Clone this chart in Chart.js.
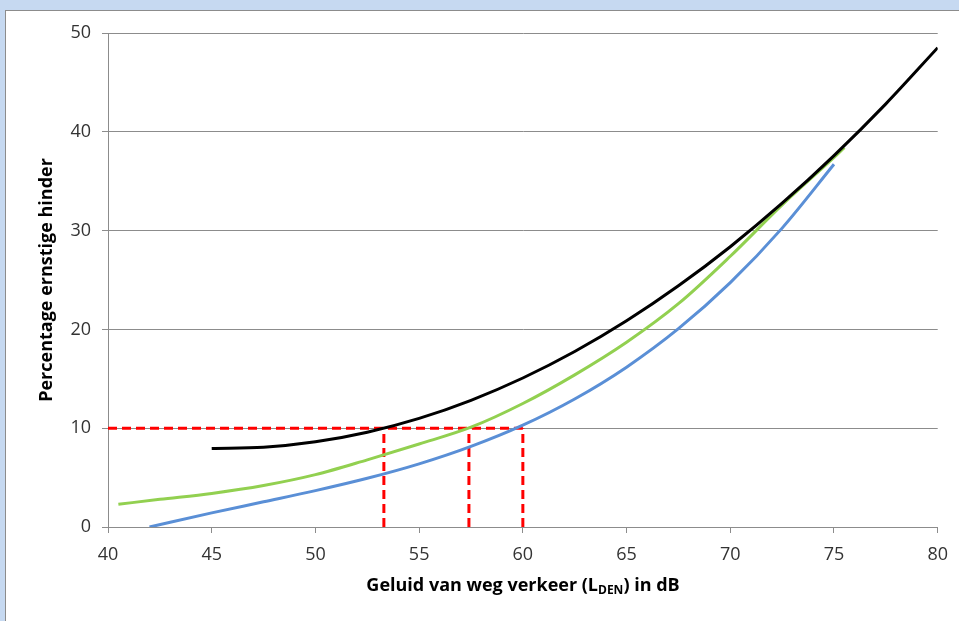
<!DOCTYPE html>
<html>
<head>
<meta charset="utf-8">
<script src="https://cdn.jsdelivr.net/npm/chart.js@4"></script>
<style>
  html, body { margin:0; padding:0; width:959px; height:621px; overflow:hidden; background:#c6d9f1; }
  #panel { position:absolute; left:5px; top:10px; width:960px; height:620px; background:#fff; border-left:1.5px solid #8c8c8c; border-top:1.5px solid #8c8c8c; }
  #wrap { position:absolute; left:0; top:0; width:959px; height:621px; }
  #xtitle { position:absolute; left:108px; width:830px; top:572px; text-align:center; font-family:"Open Sans", sans-serif; font-weight:bold; font-size:18px; color:#000; white-space:nowrap; }
  #xtitle sub { font-size:12px; vertical-align:-3px; }
</style>
</head>
<body>
<div id="panel"></div>
<div id="wrap"><canvas id="c" width="959" height="621"></canvas></div>
<div id="xtitle">Geluid van weg verkeer (L<sub>DEN</sub>) in dB</div>
<script>
// Data
const blackX = [45, 47.5, 50, 52.5, 55, 57.5, 60, 62.5, 65, 67.5, 70, 72.5, 75, 77.5, 80];
const blackY = [7.95, 8.07, 8.62, 9.59, 10.99, 12.82, 15.08, 17.76, 20.87, 24.41, 28.37, 32.77, 37.59, 42.83, 48.51];

const greenX = [40.5, 42.5, 45, 47.5, 50, 52.5, 55, 57.5, 60, 62.5, 65, 67.5, 70, 72.5, 75, 75.5];
const greenY = [2.3, 2.8, 3.4, 4.2, 5.3, 6.8, 8.4, 10.1, 12.5, 15.4, 18.7, 22.6, 27.4, 32.6, 37.4, 38.4];

const blueX = [42, 45, 47.5, 50, 52.5, 55, 57.5, 60, 62.5, 65, 67.5, 70, 72.5, 75];
const blueY = [0, 1.43, 2.55, 3.68, 4.93, 6.39, 8.16, 10.31, 12.96, 16.18, 20.07, 24.73, 30.25, 36.71];

const refLevel = 10;
const refX = [53.3, 57.4, 60.0];
const refStartX = 40;

const xTicks = [40, 45, 50, 55, 60, 65, 70, 75, 80];
const yTicks = [0, 10, 20, 30, 40, 50];

const yTitle = "Percentage ernstige hinder";

const pts = (xs, ys) => xs.map((x, i) => ({x: x, y: ys[i]}));
const red = '#ff0000';
const refDash = [9, 5];

const datasets = [];
datasets.push({ data: [{x: refStartX, y: refLevel}, {x: refX[refX.length-1], y: refLevel}], borderColor: red, borderWidth: 3, borderDash: refDash, pointRadius: 0, tension: 0, order: 5, clip: 8 });
refX.forEach(x => datasets.push({ data: [{x: x, y: 0}, {x: x, y: refLevel}], borderColor: red, borderWidth: 3, borderDash: refDash, pointRadius: 0, tension: 0, order: 5 }));
datasets.push({ data: pts(blueX, blueY), borderColor: '#5a8fd6', borderWidth: 3, pointRadius: 0, cubicInterpolationMode: 'monotone', order: 3 });
datasets.push({ data: pts(greenX, greenY), borderColor: '#92d050', borderWidth: 3, pointRadius: 0, cubicInterpolationMode: 'monotone', order: 2 });
datasets.push({ data: pts(blackX, blackY), borderColor: '#000000', borderWidth: 3, pointRadius: 0, cubicInterpolationMode: 'monotone', order: 1 });

const gridCol = '#8c8c8c';
const font = { family: '"Open Sans", sans-serif', size: 18 };

new Chart(document.getElementById('c'), {
  type: 'line',
  data: { datasets: datasets },
  options: {
    responsive: false,
    animation: false,
    events: [],
    layout: { padding: { top: 33, right: 21, left: 0, bottom: 0 } },
    plugins: { legend: { display: false }, tooltip: { enabled: false }, title: { display: false } },
    scales: {
      x: {
        type: 'linear', min: xTicks[0], max: xTicks[xTicks.length-1],
        afterBuildTicks: s => { s.ticks = xTicks.map(v => ({value: v})); },
        afterFit: s => { s.height = 94; },
        grid: { drawOnChartArea: false, drawTicks: true, tickLength: 6, color: gridCol, lineWidth: 1 },
        border: { display: true, color: gridCol, width: 1 },
        ticks: { color: '#333', font: font, padding: 11, maxRotation: 0 }
      },
      y: {
        type: 'linear', min: yTicks[0], max: yTicks[yTicks.length-1],
        afterBuildTicks: s => { s.ticks = yTicks.map(v => ({value: v})); },
        afterFit: s => { s.width = 108; },
        grid: { drawTicks: true, tickLength: 6, color: gridCol, lineWidth: 1 },
        border: { display: true, color: gridCol, width: 1 },
        ticks: { color: '#333', font: font, padding: 11 },
        title: { display: true, text: yTitle, color: '#000', font: { family: '"Open Sans", sans-serif', size: 18, weight: 'bold' }, padding: { top: 36, bottom: 0 } }
      }
    }
  }
});
</script>
</body>
</html>
